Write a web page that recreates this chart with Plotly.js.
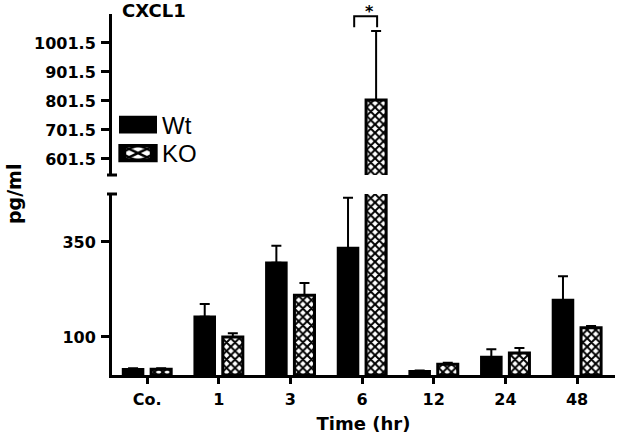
<!DOCTYPE html>
<html><head><meta charset="utf-8">
<script src="https://cdn.plot.ly/plotly-3.0.1.min.js"></script>
<style>html,body{margin:0;padding:0;background:#fff}</style>
</head><body>
<div id="chart" style="width:618px;height:441px"></div>
<script>
var categories = ['Co.', '1', '3', '6', '12', '24', '48'];
var wtValues = [15, 153, 295, 334, 10, 47, 197];
var wtErrors = [3, 34, 45, 132, 2, 21, 63];
var koValues = [15, 100, 210, 805, 28, 58, 124];
var koErrors = [3, 10, 32, 238, 4, 13, 5];
var zeros = [0, 0, 0, 0, 0, 0, 0];
var lowerTicks = [100, 350];
var upperTicks = [601.5, 701.5, 801.5, 901.5, 1001.5];
var upperTickText = ['601.5', '701.5', '801.5', '901.5', '1001.5'];

var tickFont = {family: 'DejaVu Sans', size: 16, weight: 'bold', color: '#000'};

function bars(name, vals, errs, yaxis, isKO, showlegend) {
  var marker = {color: '#000', line: {color: '#000', width: 2.5}};
  if (isKO) {
    marker = {color: '#fff', line: {color: '#000', width: 3},
      pattern: {shape: 'x', fgcolor: '#000', bgcolor: '#fff', size: 6, solidity: 0.55}};
  }
  return {
    type: 'bar', name: name, x: categories, y: vals, yaxis: yaxis, xaxis: 'x',
    marker: marker, showlegend: showlegend, legendgroup: name,
    legend: isKO ? 'legend2' : 'legend',
    error_y: {type: 'data', array: errs, arrayminus: zeros, symmetric: false,
      color: '#000', thickness: 2, width: 5}
  };
}

var data = [
  bars('Wt', wtValues, wtErrors, 'y', false, false),
  bars('KO', koValues, koErrors, 'y', true, false),
  bars('Wt', wtValues, wtErrors, 'y2', false, true),
  bars('KO', koValues, koErrors, 'y2', true, true)
];

var legendFont = {family: 'Liberation Sans, Arial', size: 24, color: '#000'};

var layout = {
  width: 618, height: 441,
  margin: {l: 112, r: 3, t: 14, b: 66},
  paper_bgcolor: '#fff', plot_bgcolor: '#fff',
  barmode: 'group', bargap: 0.216, bargroupgap: 0.286,
  showlegend: true,
  legend: {x: 0.004, y: 0.6925, xanchor: 'left', yanchor: 'middle', bgcolor: 'rgba(0,0,0,0)',
    itemwidth: 38, font: legendFont},
  legend2: {x: 0.004, y: 0.6136, xanchor: 'left', yanchor: 'middle', bgcolor: 'rgba(0,0,0,0)',
    itemwidth: 38, font: legendFont},
  title: {text: 'CXCL1', x: 0.02, xref: 'paper', xanchor: 'left', y: 0.975, yanchor: 'middle',
    font: {family: 'DejaVu Sans', size: 18, weight: 'bold', color: '#000'}},
  xaxis: {type: 'category', range: [-0.49, 6.53], showline: true, linewidth: 3, linecolor: '#000',
    ticks: 'outside', ticklen: 6, tickwidth: 3, tickcolor: '#000', tickfont: tickFont,
    ticklabelstandoff: 2,
    showgrid: false, zeroline: false, anchor: 'y',
    title: {text: 'Time (hr)', font: {family: 'DejaVu Sans', size: 18, weight: 'bold', color: '#000'}, standoff: 10}},
  yaxis: {domain: [0, 0.5014], range: [0, 476], showline: true, linewidth: 3, linecolor: '#000',
    ticks: 'outside', ticklen: 8, tickwidth: 3, tickcolor: '#000', tickfont: tickFont, ticklabelstandoff: 2,
    tickmode: 'array', tickvals: lowerTicks, showgrid: false, zeroline: false, anchor: 'x'},
  yaxis2: {domain: [0.554, 1], range: [546, 1101.5], showline: true, linewidth: 3, linecolor: '#000',
    ticks: 'outside', ticklen: 8, tickwidth: 3, tickcolor: '#000', tickfont: tickFont, ticklabelstandoff: 2,
    tickmode: 'array', tickvals: upperTicks, ticktext: upperTickText, showgrid: false, zeroline: false, anchor: 'x'},
  shapes: [
    {type: 'line', xref: 'paper', yref: 'paper', x0: -0.01, x1: 0.01, y0: 0.5014, y1: 0.5014, line: {color: '#000', width: 3}},
    {type: 'line', xref: 'paper', yref: 'paper', x0: -0.01, x1: 0.01, y0: 0.554, y1: 0.554, line: {color: '#000', width: 3}},
    {type: 'path', xref: 'x', yref: 'y2', path: 'M 2.89,1056 L 2.89,1094 L 3.21,1094 L 3.21,1056', line: {color: '#000', width: 2}}
  ],
  annotations: [
    {text: '*', xref: 'x', yref: 'paper', x: 3.1, y: 1.008, xanchor: 'center', yanchor: 'middle', showarrow: false,
      font: {family: 'DejaVu Sans', size: 16, weight: 'bold', color: '#000'}},
    {text: 'pg/ml', xref: 'paper', yref: 'paper', x: -0.195, y: 0.501, textangle: -90, showarrow: false,
      xanchor: 'center', yanchor: 'middle', font: {family: 'DejaVu Sans', size: 19, weight: 'bold', color: '#000'}}
  ]
};

function stretchSwatches() {
  var pts = document.querySelectorAll('g[class*="legend"] .legendpoints path');
  pts.forEach(function (p) {
    if (p.getAttribute('data-scaled')) return;
    var t = p.getAttribute('transform') || '';
    p.setAttribute('transform', t + ' scale(2.62,1.22)');
    p.setAttribute('data-scaled', '1');
  });
}

Plotly.newPlot('chart', data, layout, {displayModeBar: false, staticPlot: true}).then(function () {
  stretchSwatches();
  setTimeout(stretchSwatches, 50);
});
</script>
</body></html>
